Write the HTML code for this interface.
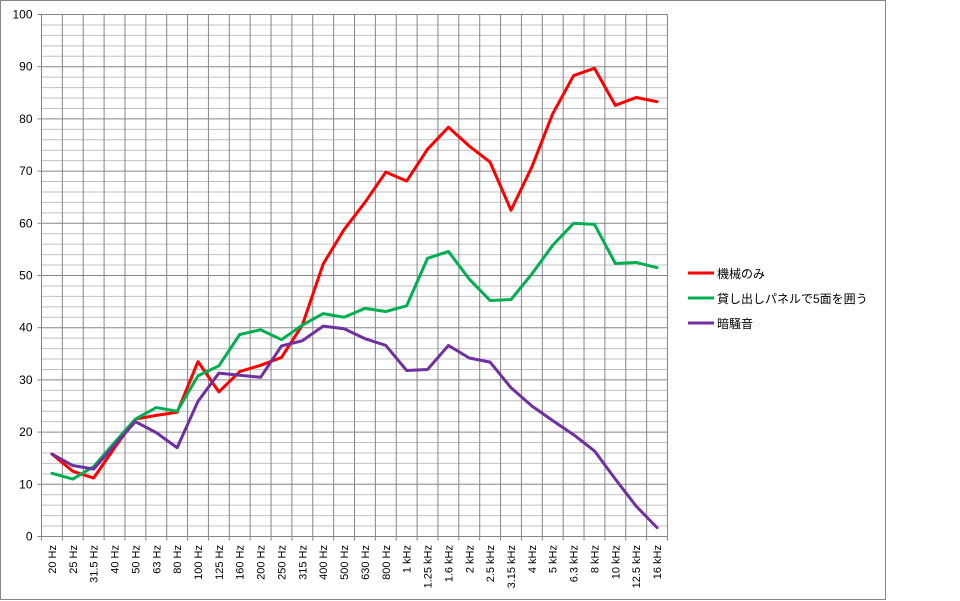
<!DOCTYPE html>
<html><head><meta charset="utf-8"><style>
body{margin:0;background:#fff}
svg{display:block;font-family:"Liberation Sans","Noto Sans CJK JP",sans-serif}
</style></head><body>
<svg id="c" width="960" height="601">
<rect x="0.5" y="0.5" width="885" height="599" fill="#fff" stroke="#868686"/>
<g id="grid"></g><g id="axes"></g><g id="series"></g><g id="legend"></g>
</svg>
<script>
const categories=["20 Hz","25 Hz","31.5 Hz","40 Hz","50 Hz","63 Hz","80 Hz","100 Hz","125 Hz","160 Hz","200 Hz","250 Hz","315 Hz","400 Hz","500 Hz","630 Hz","800 Hz","1 kHz","1.25 kHz","1.6 kHz","2 kHz","2.5 kHz","3.15 kHz","4 kHz","5 kHz","6.3 kHz","8 kHz","10 kHz","12.5 kHz","16 kHz"];
const machineOnly=[15.8,12.5,11.2,17,22.5,23.2,23.8,33.5,27.7,31.6,32.8,34.3,40.5,52.2,58.8,64,69.8,68.1,74.2,78.4,74.8,71.7,62.5,70.8,81,88.3,89.7,82.6,84.1,83.3];
const panelEnclosed=[12.1,11,13.4,18,22.5,24.7,24,30.8,32.7,38.7,39.6,37.7,40.5,42.7,42,43.7,43.1,44.2,53.3,54.6,49.3,45.2,45.4,50.3,55.8,60,59.8,52.3,52.5,51.5];
const backgroundNoise=[15.8,13.6,12.9,17.5,22,19.9,17,25.9,31.3,30.9,30.5,36.5,37.5,40.3,39.8,37.9,36.6,31.8,32,36.6,34.2,33.4,28.5,25,22.2,19.5,16.4,11,5.8,1.7];
const yTicks=[0,10,20,30,40,50,60,70,80,90,100];
const seriesNames=["機械のみ","貸し出しパネルで5面を囲う","暗騒音"];

const NS="http://www.w3.org/2000/svg";
const L=41.5,R=667.5,T=14.5,B=536.5;
const bw=(R-L)/categories.length;
const x=i=>L+bw*(i+0.5);
const y=v=>B-(B-T)*v/100;
function mk(p,tag,a){const e=document.createElementNS(NS,tag);for(const k in a)e.setAttribute(k,a[k]);p.appendChild(e);return e;}
const grid=document.getElementById('grid'),axes=document.getElementById('axes'),sg=document.getElementById('series'),lg=document.getElementById('legend');
for(let v=0;v<=100;v+=2){
  const l=mk(grid,'line',{x1:L,x2:R,y1:y(v),y2:y(v),stroke:v%10?'#c0c0c0':'#868686','stroke-width':1});
  
  
}
for(let i=0;i<=categories.length;i++){
  const l=mk(grid,'line',{x1:L+bw*i,x2:L+bw*i,y1:T,y2:B+4,stroke:'#868686','stroke-width':1});
  
  
}
for(const v of yTicks){
  mk(axes,'line',{x1:L-4,x2:L,y1:y(v),y2:y(v),stroke:'#868686'});
  const t=mk(axes,'text',{x:L-9,y:y(v)+4,'text-anchor':'end','font-size':12,fill:'#000'});
  t.textContent=v;
  
  
}
categories.forEach((c,i)=>{
  const t=mk(axes,'text',{transform:`translate(${x(i)+4},545) rotate(-90)`,'text-anchor':'end','font-size':11,fill:'#000'});
  t.textContent=c;
  
  
});
const data=[machineOnly,panelEnclosed,backgroundNoise];
const colors=['#ff0000','#00b050','#7030a0'];
const keys=['series-machine-only','series-panel-enclosed','series-background-noise'];
data.forEach((d,s)=>{
  const p=mk(sg,'polyline',{points:d.map((v,i)=>x(i)+','+y(v)).join(' '),fill:'none',stroke:colors[s],'stroke-width':3,'stroke-linejoin':'round','stroke-linecap':'round'});
  
  
  const g=mk(lg,'g',{});
  
  
  const ly=273+s*25;
  mk(g,'line',{x1:688,x2:714,y1:ly,y2:ly,stroke:colors[s],'stroke-width':3});
  const t=mk(g,'text',{x:717,y:ly+5,'font-size':12,fill:'#000'});
  t.textContent=seriesNames[s];
});
</script>
</body></html>
